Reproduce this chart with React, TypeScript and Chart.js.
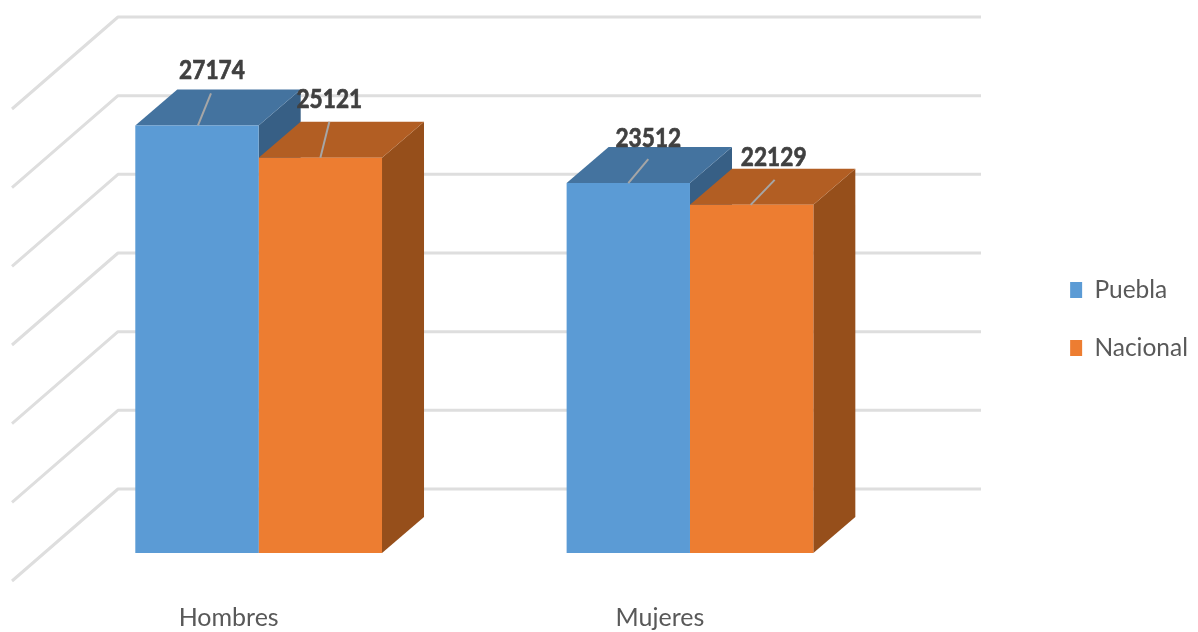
import React, { useEffect, useRef } from "react";
import { Chart, registerables } from "chart.js";

Chart.register(...registerables);

const categories = ["Hombres", "Mujeres"];
const seriesNames = ["Puebla", "Nacional"];
const puebla = [27174, 23512];
const nacional = [25121, 22129];
const yTickStep = 5000;
const yMax = 30000;

const frontColors = ["#5B9BD5", "#ED7D31"];
const topColors = ["#44739F", "#B25E23"];
const sideColors = ["#375F85", "#964F1B"];

// label placement relative to each bar's top centre: [labelDx, labelDy, leaderStartDx, leaderEndDx, leaderEndDy]
const labelPlacement = [
  [[15, -55, 1, 14, -32], [9, -58, 0, 9, -36]],
  [[20, -45, 0, 20, -24], [22, -48, -1, 23, -25]],
];

const DEPTH_X = 42;
const DEPTH_Y = 36;
const WALL_LEFT = 118;
const WALL_RIGHT = 981;
const FRONT_LEFT = 12;
const FRONT_DROP = 92;
const WALL_DROP = 64;

const poly = (ctx: CanvasRenderingContext2D, pts: number[][], fill: string) => {
  ctx.beginPath();
  pts.forEach((p, i) => (i ? ctx.lineTo(p[0], p[1]) : ctx.moveTo(p[0], p[1])));
  ctx.closePath();
  ctx.fillStyle = fill;
  ctx.fill();
};

const threeD = {
  id: "threeD",
  afterLayout(chart: any) {
    chart.legend.top += 2;
    chart.legend.bottom += 2;
  },
  beforeDatasetsDraw(chart: any) {
    const ctx = chart.ctx as CanvasRenderingContext2D;
    const yS = chart.scales.y;
    ctx.save();
    ctx.strokeStyle = "#DEDEDE";
    ctx.lineWidth = 3;
    ctx.lineJoin = "round";
    yS.ticks.forEach((t: any) => {
      const y = yS.getPixelForValue(t.value) - WALL_DROP;
      ctx.beginPath();
      ctx.moveTo(FRONT_LEFT, y + FRONT_DROP);
      ctx.lineTo(WALL_LEFT, y);
      ctx.lineTo(WALL_RIGHT, y);
      ctx.stroke();
    });
    categories.forEach((_, c) => {
      chart.data.datasets.forEach((_d: any, s: number) => {
        const bar = chart.getDatasetMeta(s).data[c];
        const l = bar.x - bar.width / 2;
        const r = bar.x + bar.width / 2;
        const t = bar.y;
        const b = bar.base;
        poly(ctx, [[r, t], [r + DEPTH_X, t - DEPTH_Y], [r + DEPTH_X, b - DEPTH_Y], [r, b]], sideColors[s]);
        poly(ctx, [[l, t], [l + DEPTH_X, t - DEPTH_Y], [r + DEPTH_X, t - DEPTH_Y], [r, t]], topColors[s]);
      });
    });
    ctx.restore();
  },
  afterDatasetsDraw(chart: any) {
    const ctx = chart.ctx as CanvasRenderingContext2D;
    chart.data.datasets.forEach((ds: any, s: number) => {
      ds.data.forEach((v: number, c: number) => {
        const bar = chart.getDatasetMeta(s).data[c];
        const [ldx, ldy, sdx, edx, edy] = labelPlacement[c][s];
        ctx.save();
        ctx.strokeStyle = "#A6A6A6";
        ctx.lineWidth = 2;
        ctx.beginPath();
        ctx.moveTo(bar.x + sdx, bar.y);
        ctx.lineTo(bar.x + edx, bar.y + edy);
        ctx.stroke();
        ctx.fillStyle = "#404040";
        ctx.strokeStyle = "#404040";
        ctx.lineWidth = 0.7;
        ctx.font = "bold 27px Lato";
        ctx.textAlign = "center";
        ctx.textBaseline = "middle";
        ctx.translate(bar.x + ldx, bar.y + ldy);
        ctx.scale(0.84, 1);
        ctx.fillText(String(v), 0, 0);
        ctx.strokeText(String(v), 0, 0);
        ctx.restore();
      });
    });
  },
};

export default function App() {
  const ref = useRef<HTMLCanvasElement>(null);
  useEffect(() => {
    const chart = new Chart(ref.current!, {
      type: "bar",
      data: {
        labels: categories,
        datasets: [puebla, nacional].map((data, i) => ({
          label: seriesNames[i],
          data,
          backgroundColor: frontColors[i],
          borderWidth: 0,
          categoryPercentage: 0.572,
          barPercentage: 1,
        })),
      },
      options: {
        responsive: false,
        animation: false,
        layout: { padding: { left: 35, top: 81, right: 0, bottom: 0 } },
        scales: {
          x: {
            grid: { display: false },
            border: { display: false },
            ticks: {
              color: "#595959",
              font: { family: "Lato", size: 25 },
              padding: 42,
              labelOffset: -30,
              maxRotation: 0,
            },
            afterFit: (s: any) => {
              s.height = 79;
            },
          },
          y: {
            min: 0,
            max: yMax,
            grid: { display: false },
            border: { display: false },
            ticks: { display: false, stepSize: yTickStep },
          },
          spacer: {
            position: "right",
            grid: { display: false },
            border: { display: false },
            ticks: { display: false },
            afterFit: (s: any) => {
              s.width = 131;
            },
          },
        },
        plugins: {
          tooltip: { enabled: false },
          title: { display: false },
          legend: {
            position: "right",
            fullSize: false,
            labels: {
              color: "#595959",
              font: { family: "Lato", size: 24.5 },
              boxWidth: 12,
              boxHeight: 16,
              padding: 33.5,
            },
          },
        },
      } as any,
      plugins: [threeD],
    });
    return () => chart.destroy();
  }, []);
  return (
    <div style={{ position: "fixed", left: 0, top: 0, width: 1198, height: 632, background: "#fff" }}>
      <canvas ref={ref} width={1198} height={632} style={{ display: "block" }} />
    </div>
  );
}
